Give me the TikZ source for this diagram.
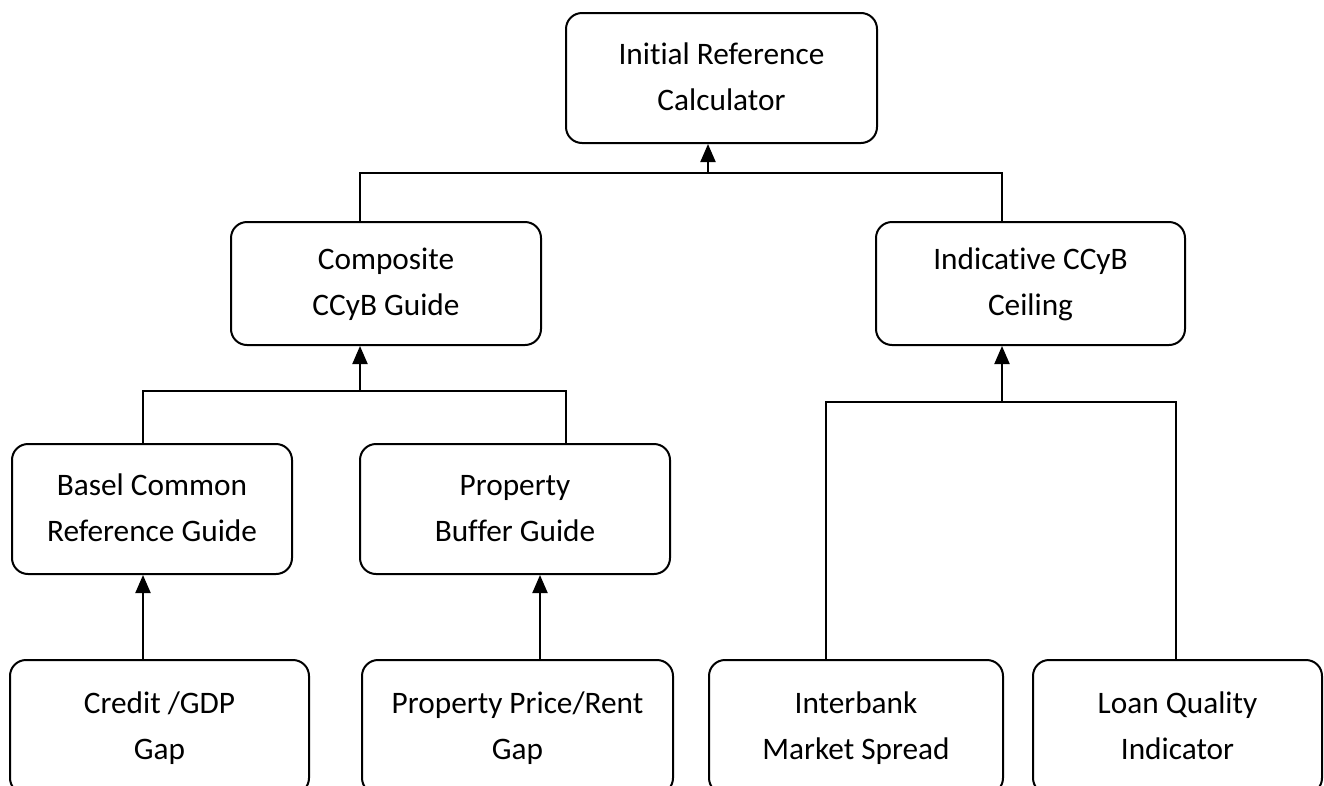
\documentclass[tikz,border=0pt]{standalone}
\usepackage{fontspec}
\setmainfont[Ligatures={NoCommon}]{Carlito}
\usetikzlibrary{arrows.meta}
\newcommand{\twol}[2]{\strut #1\\\strut #2}
\begin{document}
\begin{tikzpicture}[x=1pt,y=-1pt,
  box/.style={draw=black,line width=2pt,rounded corners=16pt,align=center,
    inner sep=0pt,font=\fontsize{31.3}{46}\selectfont},
  link/.style={draw=black,line width=2pt},
  arr/.style={link,-{Triangle[width=15pt,length=18pt]}}]
\useasboundingbox (0,0) rectangle (1324,785);
\clip (0,0) rectangle (1324,785);
\fill[white] (0,0) rectangle (1324,785);
\node[box,minimum width=311pt,minimum height=130pt] (top) at (721.5,78) {\twol{Initial Reference}{Calculator}};
\node[box,minimum width=310pt,minimum height=123pt] (comp) at (386,283.5) {\twol{Composite}{CCyB Guide}};
\node[box,minimum width=309pt,minimum height=123pt] (ind) at (1030.5,283.5) {\twol{Indicative CCyB}{Ceiling}};
\node[box,minimum width=280pt,minimum height=130pt] (basel) at (152,509) {\twol{Basel Common}{Reference Guide}};
\node[box,minimum width=310pt,minimum height=130pt] (pbuf) at (515,509) {\twol{Property}{Buffer Guide}};
\node[box,minimum width=299pt,minimum height=134pt] (credit) at (159.5,727) {\twol{Credit /GDP}{Gap}};
\node[box,minimum width=311pt,minimum height=134pt] (pprice) at (517.5,727) {\twol{Property Price/Rent}{Gap}};
\node[box,minimum width=294pt,minimum height=134pt] (inter) at (856,727) {\twol{Interbank}{Market Spread}};
\node[box,minimum width=289pt,minimum height=134pt] (loan) at (1177.5,727) {\twol{Loan Quality}{Indicator}};
% level 1 bus
\coordinate (b1) at (708,173);
\coordinate (b1L) at (360,173);
\coordinate (b1R) at (1002,173);
\draw[link] (comp.north -| b1L) |- (b1R) -- (ind.north -| b1R);
\draw[arr] (b1) -- (top.south -| b1);
% composite bus
\coordinate (b2) at (360,391);
\coordinate (b2L) at (143,391);
\coordinate (b2R) at (566,391);
\draw[link] (basel.north -| b2L) |- (b2R) -- (pbuf.north -| b2R);
\draw[arr] (b2) -- (comp.south -| b2);
% indicative bus
\coordinate (b3) at (1002,402);
\coordinate (b3L) at (826,402);
\coordinate (b3R) at (1176,402);
\draw[link] (inter.north -| b3L) |- (b3R) -- (loan.north -| b3R);
\draw[arr] (b3) -- (ind.south -| b3);
% single arrows
\coordinate (c1) at (143,660);
\coordinate (c2) at (540,660);
\draw[arr] (credit.north -| c1) -- (basel.south -| c1);
\draw[arr] (pprice.north -| c2) -- (pbuf.south -| c2);
\end{tikzpicture}
\end{document}
